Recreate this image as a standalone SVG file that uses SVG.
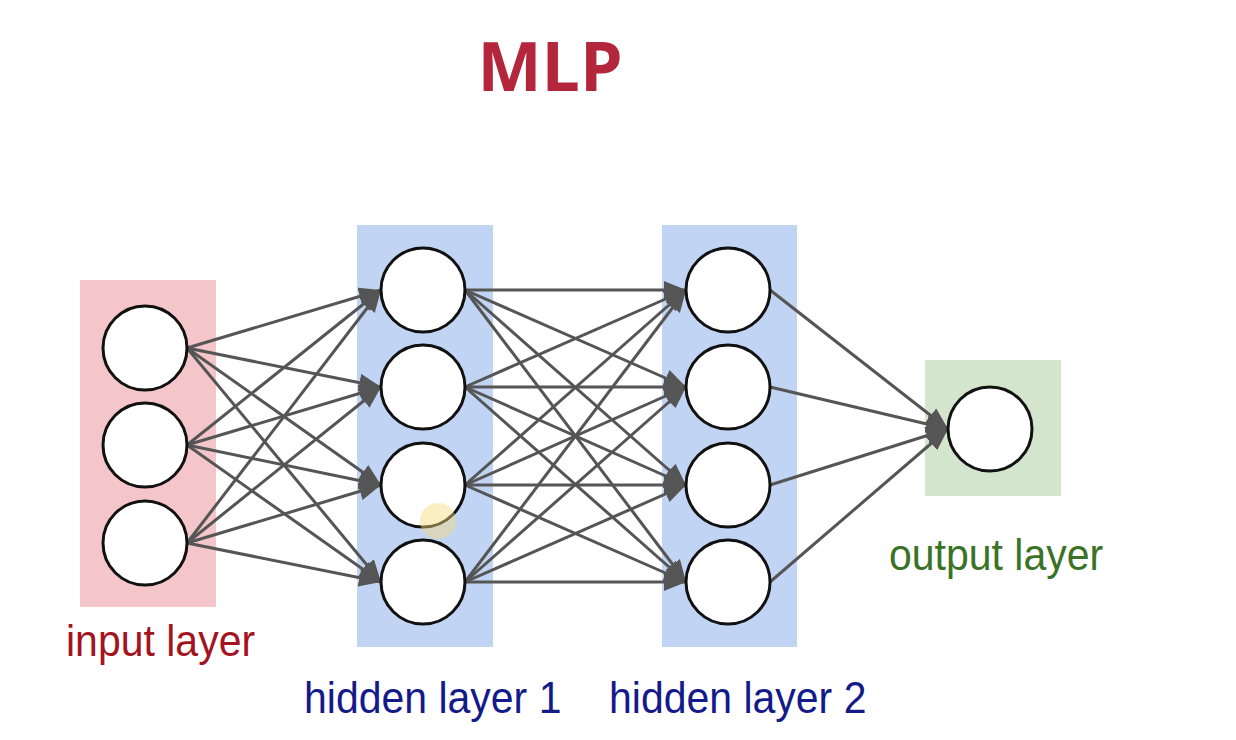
<svg xmlns="http://www.w3.org/2000/svg" width="1236" height="740" viewBox="0 0 1236 740">
<style>
.node{fill:#ffffff;stroke:#111111;stroke-width:3}
.edge{stroke:#555555;stroke-width:3;fill:none;marker-end:url(#arr)}
.lbl{font-family:"Liberation Sans",Arial,sans-serif;font-size:41px}
</style>
<defs>
<marker id="arr" markerUnits="userSpaceOnUse" markerWidth="24" markerHeight="20" refX="22" refY="9" orient="auto">
<path d="M0,0 L22,9 L0,18 Z" fill="#555555"/>
</marker>
</defs>
<rect width="1236" height="740" fill="#ffffff"/>
<text x="550" y="91" text-anchor="middle" font-family="'Open Sans','Liberation Sans',sans-serif" font-weight="bold" font-size="68" fill="#b3263b">MLP</text>
<g id="layer-boxes">
<rect x="80" y="280" width="136" height="327" fill="#f4c6c9"/>
<rect x="357" y="225" width="136" height="422" fill="#c1d4f3"/>
<rect x="662" y="225" width="135" height="422" fill="#c1d4f3"/>
<rect x="925" y="360" width="136" height="136" fill="#d3e6cd"/>
</g>
<g id="connectors">
<line class="edge" x1="187" y1="348" x2="381" y2="290"/>
<line class="edge" x1="187" y1="348" x2="381" y2="387"/>
<line class="edge" x1="187" y1="348" x2="381" y2="485"/>
<line class="edge" x1="187" y1="348" x2="381" y2="582"/>
<line class="edge" x1="187" y1="445" x2="381" y2="290"/>
<line class="edge" x1="187" y1="445" x2="381" y2="387"/>
<line class="edge" x1="187" y1="445" x2="381" y2="485"/>
<line class="edge" x1="187" y1="445" x2="381" y2="582"/>
<line class="edge" x1="187" y1="543" x2="381" y2="290"/>
<line class="edge" x1="187" y1="543" x2="381" y2="387"/>
<line class="edge" x1="187" y1="543" x2="381" y2="485"/>
<line class="edge" x1="187" y1="543" x2="381" y2="582"/>
<line class="edge" x1="465" y1="290" x2="686" y2="290"/>
<line class="edge" x1="465" y1="290" x2="686" y2="387"/>
<line class="edge" x1="465" y1="290" x2="686" y2="485"/>
<line class="edge" x1="465" y1="290" x2="686" y2="582"/>
<line class="edge" x1="465" y1="387" x2="686" y2="290"/>
<line class="edge" x1="465" y1="387" x2="686" y2="387"/>
<line class="edge" x1="465" y1="387" x2="686" y2="485"/>
<line class="edge" x1="465" y1="387" x2="686" y2="582"/>
<line class="edge" x1="465" y1="485" x2="686" y2="290"/>
<line class="edge" x1="465" y1="485" x2="686" y2="387"/>
<line class="edge" x1="465" y1="485" x2="686" y2="485"/>
<line class="edge" x1="465" y1="485" x2="686" y2="582"/>
<line class="edge" x1="465" y1="582" x2="686" y2="290"/>
<line class="edge" x1="465" y1="582" x2="686" y2="387"/>
<line class="edge" x1="465" y1="582" x2="686" y2="485"/>
<line class="edge" x1="465" y1="582" x2="686" y2="582"/>
<line class="edge" x1="770" y1="290" x2="948" y2="429"/>
<line class="edge" x1="770" y1="387" x2="948" y2="429"/>
<line class="edge" x1="770" y1="485" x2="948" y2="429"/>
<line class="edge" x1="770" y1="582" x2="948" y2="429"/>
</g>
<g id="input-1"><circle class="node" cx="145" cy="348" r="42"/></g>
<g id="input-2"><circle class="node" cx="145" cy="445" r="42"/></g>
<g id="input-3"><circle class="node" cx="145" cy="543" r="42"/></g>
<g id="h1-1"><circle class="node" cx="423" cy="290" r="42"/></g>
<g id="h1-2"><circle class="node" cx="423" cy="387" r="42"/></g>
<g id="h1-3"><circle class="node" cx="423" cy="485" r="42"/></g>
<g id="h1-4"><circle class="node" cx="423" cy="582" r="42"/></g>
<g id="h2-1"><circle class="node" cx="728" cy="290" r="42"/></g>
<g id="h2-2"><circle class="node" cx="728" cy="387" r="42"/></g>
<g id="h2-3"><circle class="node" cx="728" cy="485" r="42"/></g>
<g id="h2-4"><circle class="node" cx="728" cy="582" r="42"/></g>
<g id="output-1"><circle class="node" cx="990" cy="429" r="42"/></g>
<circle cx="438" cy="521" r="18" fill="#f3d97a" opacity="0.45"/>
<g id="labels">
<text class="lbl" transform="translate(66,656) scale(1,1.1)" fill="#a3141f">input layer</text>
<text class="lbl" transform="translate(304,713) scale(1,1.1)" fill="#141a8a">hidden layer 1</text>
<text class="lbl" transform="translate(609,713) scale(1,1.1)" fill="#141a8a">hidden layer 2</text>
<text class="lbl" transform="translate(889,570) scale(1,1.1)" fill="#3a7326">output layer</text>
</g>
</svg>
